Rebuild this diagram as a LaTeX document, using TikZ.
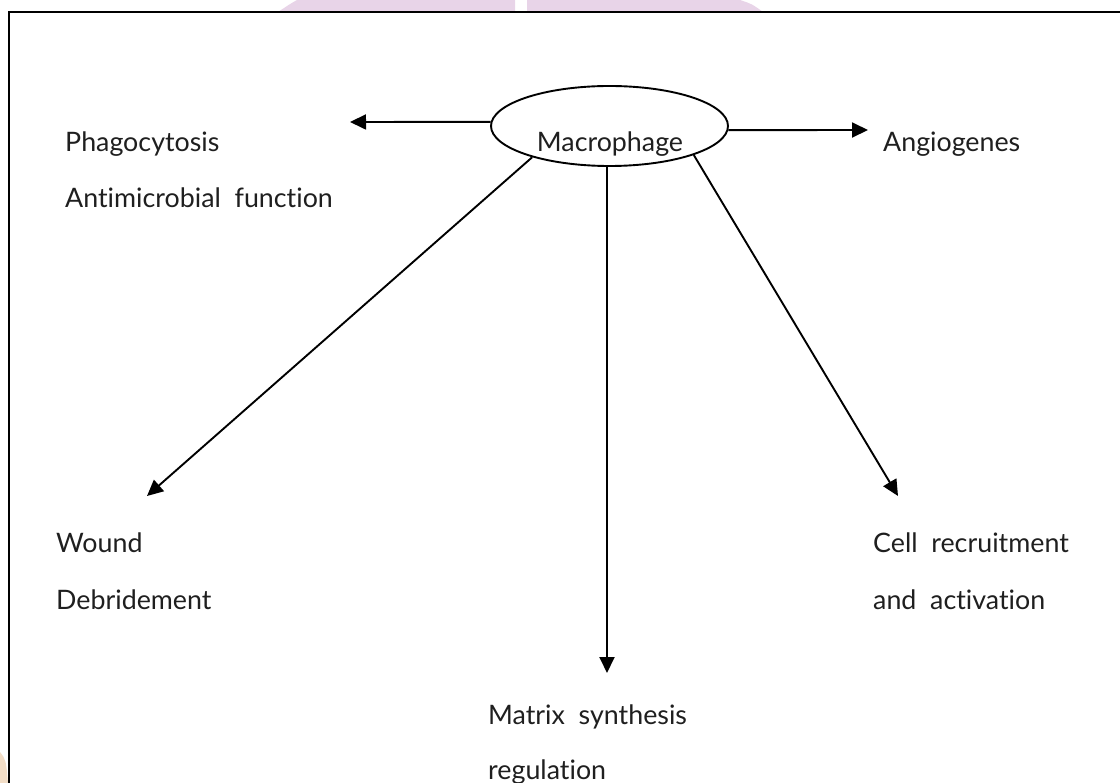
\documentclass[tikz,border=0pt]{standalone}
\usepackage{fontspec}
\setmainfont[Ligatures=NoCommon]{Lato}
\usetikzlibrary{shapes.geometric,arrows.meta}
\definecolor{wmpink}{HTML}{E8D4E8}
\definecolor{wmbeige}{HTML}{F2DDC6}
\tikzset{
  arr/.style={line width=1.9pt,-{Triangle[length=16pt,width=15pt]}},
  lbl/.style={anchor=base west,inner sep=0pt,font=\fontsize{26.8}{30}\selectfont\color{black!88}},
  frame/.style={line width=2.3pt}
}
\begin{document}
\begin{tikzpicture}[x=1pt,y=-1pt]
\useasboundingbox (0,0) rectangle (1120,783);
% watermark fragments
\fill[wmpink] (297,0) .. controls (290,4) .. (278,12) -- (515,12) -- (515,0) -- cycle;
\fill[wmpink] (527,0) -- (527,12) -- (763,12) .. controls (752,4) .. (740,0) -- cycle;
\fill[wmbeige] (0,752) .. controls (6,760) .. (8,783) -- (0,783) -- cycle;
% frame
\draw[frame] (9,783) -- (9,12) -- (1120,12);
% central ellipse
\node[ellipse,draw,line width=1.9pt,minimum width=237pt,minimum height=80pt,inner sep=0pt] (mac) at (609.5,126) {};
\node[lbl,anchor=base] (mactxt) at (610,152) {Macrophage};
% arrow tips
\coordinate (tphago) at (350,122);
\coordinate (tangio) at (868,130);
\coordinate (twound) at (147,496);
\coordinate (tmatrix) at (607,673);
\coordinate (tcell) at (898,496);
% connectors
\draw[arr] (mac.178) -- (tphago);
\draw[arr] (mac.-2) -- (tangio);
\draw[arr] (mac.202) -- (twound);
\draw[arr] (mac.south -| tmatrix) -- (tmatrix);
\draw[arr] (mac.341) -- (tcell);
% labels
\node[lbl] (phago) at (65,152) {Phagocytosis};
\node[lbl] (antim) at (65,208) {Antimicrobial\ \ function};
\node[lbl] (angio) at (883,152) {Angiogenes};
\node[lbl] (wound) at (56,553) {Wound};
\node[lbl] (debr) at (56,609) {Debridement};
\node[lbl] (cell) at (873,552) {Cell\ \ recruitment};
\node[lbl] (activ) at (873,609) {and\ \ activation};
\node[lbl] (matrix) at (488,724) {Matrix\ \ synthesis};
\node[lbl] (regul) at (488,779) {regulation};
\end{tikzpicture}
\end{document}
